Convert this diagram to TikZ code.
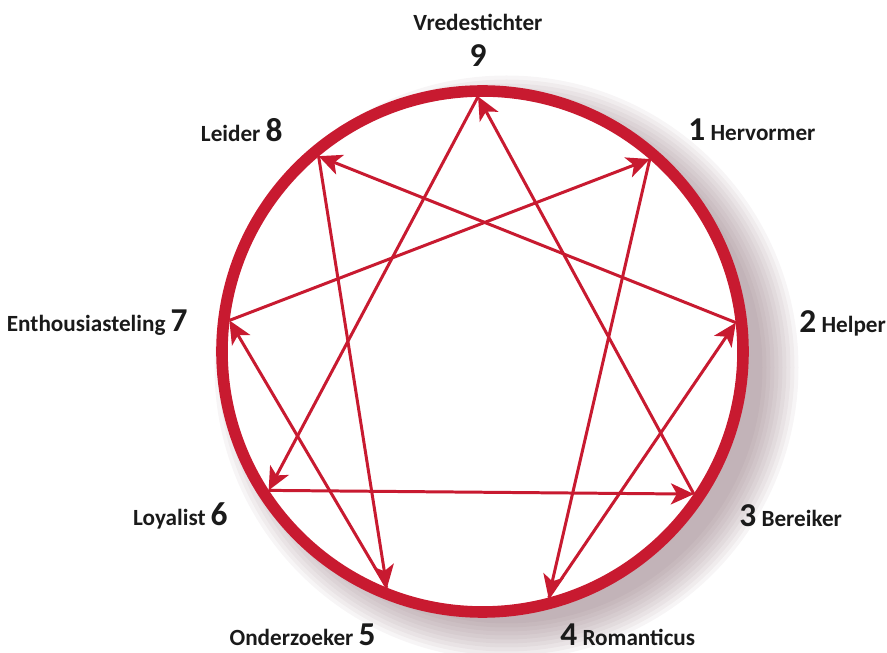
\documentclass[tikz,border=0pt]{standalone}
\usepackage{fontspec}
\setmainfont{Carlito}
\usetikzlibrary{arrows.meta, calc}
\definecolor{ennRed}{HTML}{C81A30}
\definecolor{ennShadow}{HTML}{7A5862}
\definecolor{ennText}{HTML}{1A1A1A}
\tikzset{
  arrowE/.style={-{Stealth[length=4.6mm, width=4.2mm, inset=1.2mm]}, ennRed, line width=1.7pt},
  ring/.style={draw=ennRed, line width=6.6pt, fill=white},
  lblBox/.style={text=ennText, font=\bfseries\fontsize{13.2}{15}\selectfont, inner sep=0pt},
}
\newcommand{\ennNum}[1]{{\fontsize{19}{21}\selectfont #1}}
\begin{document}
\begin{tikzpicture}[x=0.02cm, y=0.02cm]
  \useasboundingbox (0,0) rectangle (887,653);
  \coordinate (c) at (482.5,301.5);
  % soft shadow
  \foreach \r in {292,288,...,256}
    \fill[ennShadow, opacity=0.06] ($(c)+(24,-16)$) circle (\r);
  \draw[ring] (c) circle (260.5);
  \foreach \n/\a in {9/91, 1/49, 2/6.5, 3/-34, 4/-75, 5/-112, 6/-147, 7/173, 8/130}
    \coordinate (p\n) at ($(c)+(\a:255)$);
  \draw[arrowE] (p1) -- (p4); \draw[arrowE] (p4) -- (p2);
  \draw[arrowE] (p2) -- (p8); \draw[arrowE] (p8) -- (p5);
  \draw[arrowE] (p5) -- (p7); \draw[arrowE] (p7) -- (p1);
  \draw[arrowE] (p9) -- (p6); \draw[arrowE] (p6) -- (p3);
  \draw[arrowE] (p3) -- (p9);
  % labels
  \node[lblBox, anchor=base] (n9) at (478,622) {Vredestichter};
  \node[lblBox, anchor=base] (l9) at (478,586) {\ennNum{9}};
  \node[lblBox, anchor=base east] (l8) at (283,511) {Leider \ennNum{8}};
  \node[lblBox, anchor=base west] (l1) at (688,512) {\ennNum{1} Hervormer};
  \node[lblBox, anchor=base east] (l7) at (188,321) {Enthousiasteling \ennNum{7}};
  \node[lblBox, anchor=base west] (l2) at (799,320) {\ennNum{2} Helper};
  \node[lblBox, anchor=base east] (l6) at (228,127) {Loyalist \ennNum{6}};
  \node[lblBox, anchor=base west] (l3) at (739,126) {\ennNum{3} Bereiker};
  \node[lblBox, anchor=base east] (l5) at (376,7) {Onderzoeker \ennNum{5}};
  \node[lblBox, anchor=base west] (l4) at (560,7) {\ennNum{4} Romanticus};
\end{tikzpicture}
\end{document}
